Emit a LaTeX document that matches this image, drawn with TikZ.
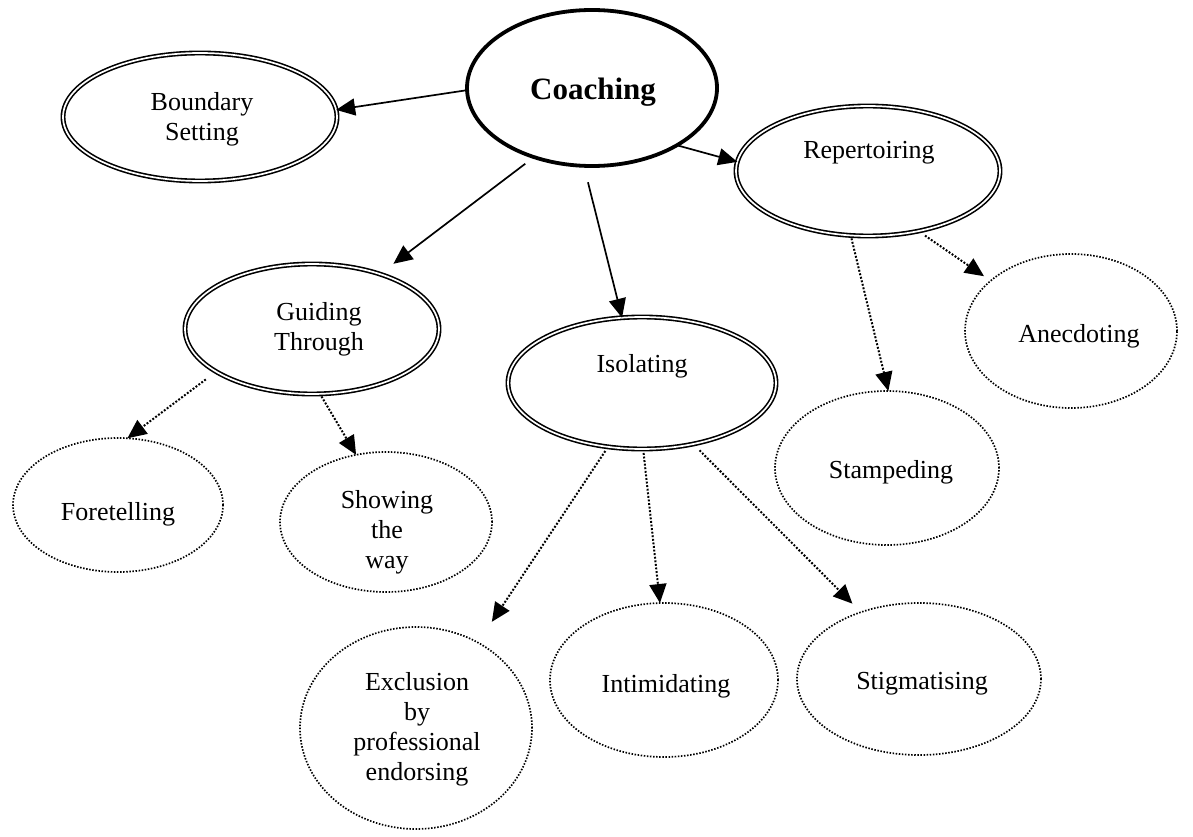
\documentclass[tikz,border=0pt]{standalone}
\usepackage{fontspec}
\setmainfont{Liberation Serif}
\usetikzlibrary{shapes.geometric,arrows.meta}
\tikzset{
  oval/.style={ellipse, inner sep=0pt, outer sep=0pt},
  mainoval/.style={oval, draw, line width=3.8pt},
  dbloval/.style={oval, draw, double, double distance=1.7pt, line width=1.6pt},
  dotoval/.style={oval, draw, line width=1.7pt, dash pattern=on 1.5pt off 1.6pt},
  lbl/.style={font=\fontsize{26}{30}\selectfont, inner sep=0pt, align=center},
  mainlbl/.style={font=\fontsize{31}{36}\selectfont\bfseries, inner sep=0pt},
  solidlink/.style={line width=1.7pt, -{Triangle[length=19pt,width=17pt]}},
  dotlink/.style={line width=2pt, dash pattern=on 1.9pt off 1.7pt, -{Triangle[length=19pt,width=17pt]}},
}
\begin{document}
\begin{tikzpicture}[x=1pt,y=-1pt]
\useasboundingbox (0,0) rectangle (1193,837);

% ovals
\node[mainoval, minimum width=250pt, minimum height=156pt] (coach) at (592,88) {};
\node[dbloval, minimum width=274pt, minimum height=128pt] (bound) at (200,117) {};
\node[dbloval, minimum width=264pt, minimum height=130pt] (rep) at (868,171) {};
\node[dbloval, minimum width=254pt, minimum height=130pt] (guide) at (312,329) {};
\node[dbloval, minimum width=268pt, minimum height=132pt] (iso) at (642,383) {};
\node[dotoval, minimum width=212pt, minimum height=154pt] (anec) at (1071,331) {};
\node[dotoval, minimum width=224pt, minimum height=154pt] (stamp) at (887,468) {};
\node[dotoval, minimum width=210pt, minimum height=134pt] (fore) at (118,505) {};
\node[dotoval, minimum width=212pt, minimum height=140pt] (show) at (386,522) {};
\node[dotoval, minimum width=232pt, minimum height=202pt] (excl) at (416,728) {};
\node[dotoval, minimum width=228pt, minimum height=154pt] (intim) at (664,680) {};
\node[dotoval, minimum width=244pt, minimum height=152pt] (stig) at (919,679) {};

% labels
\node[mainlbl, anchor=base] (tcoach) at (593,100) {Coaching};
\node[lbl] (tbound) at (202,119) {Boundary\\Setting};
\node[lbl, anchor=base] (trep) at (869,159) {Repertoiring};
\node[lbl] (tguide) at (319,329) {Guiding\\Through};
\node[lbl, anchor=base] (tiso) at (642,372) {Isolating};
\node[lbl, anchor=base] (tanec) at (1079,342) {Anecdoting};
\node[lbl, anchor=base] (tstamp) at (891,478) {Stampeding};
\node[lbl, anchor=base] (tfore) at (118,520) {Foretelling};
\node[lbl] (tshow) at (387,532) {Showing\\the\\way};
\node[lbl] (texcl) at (417,729) {Exclusion\\by\\professional\\endorsing};
\node[lbl, anchor=base] (tintim) at (666,692) {Intimidating};
\node[lbl, anchor=base] (tstig) at (922,689) {Stigmatising};

% links from the core category
\draw[solidlink] (coach.181) -- (bound.3);
\draw[solidlink] (coach.-34) -- (rep.176.6);
\draw[solidlink, shorten <=11pt, shorten >=17pt] (coach.230.5) -- (guide.39);
\draw[solidlink, shorten <=17pt] (coach.264.6) -- (iso.107);

% links to sub-categories
\draw[dotlink, shorten <=13pt] (guide.204) -- (fore.82);
\draw[dotlink, shorten <=3pt] (guide.277) -- (show.114);
\draw[dotlink, shorten <=5pt, shorten >=25pt] (iso.242) -- (excl.54);
\draw[dotlink, shorten <=4pt] (iso.271) -- (intim.93);
\draw[dotlink, shorten <=9pt, shorten >=12pt] (iso.310) -- (stig.131);
\draw[dotlink, shorten <=3pt] (rep.255) -- (stamp.89);
\draw[dotlink, shorten <=8pt, shorten >=8pt] (rep.310) -- (anec.148.5);
\end{tikzpicture}
\end{document}
